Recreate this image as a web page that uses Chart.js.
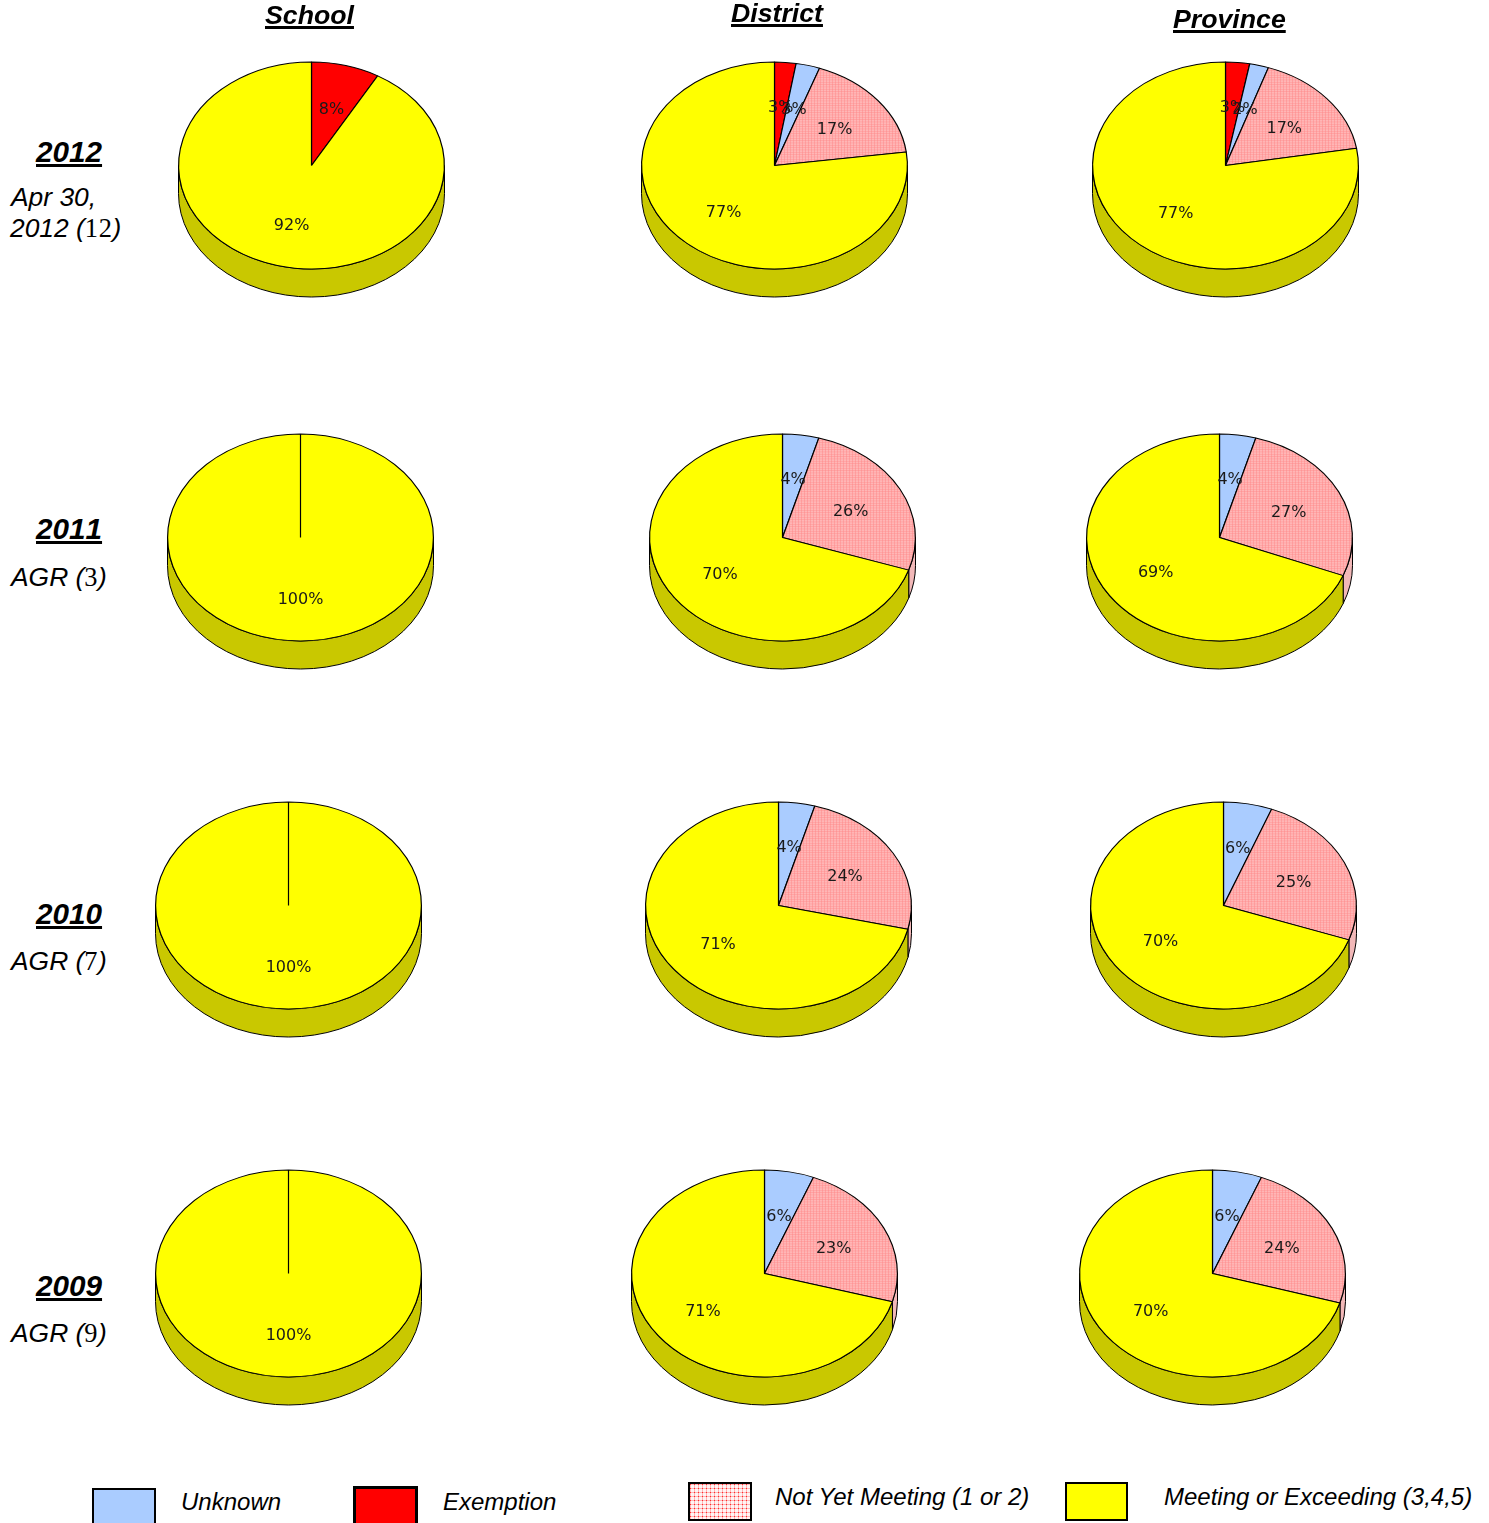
<!DOCTYPE html>
<html>
<head>
<meta charset="utf-8">
<script src="https://cdn.jsdelivr.net/npm/chart.js@4"></script>
<style>
  html, body { margin: 0; padding: 0; background: #fff; }
  #page { position: relative; width: 1489px; height: 1523px; overflow: hidden; font-family: "Liberation Sans", Arial, sans-serif; color: #000; }
  #page canvas { position: absolute; }
  .txt { position: absolute; white-space: nowrap; font-style: italic; line-height: 1; }
  .head { font-weight: bold; text-decoration: underline; text-decoration-thickness: 3px; text-underline-offset: 2px; font-kerning: none; }
  .num { font-family: "Liberation Serif", serif; font-style: normal; letter-spacing: 0.6px; }
  .swatch { position: absolute; box-sizing: border-box; border: 3px solid #000; }
</style>
</head>
<body>
<div id="page"></div>
<script>
// clockwise from 12 o'clock, slices, labels are rounded
const categories = ['Exemption', 'Unknown', 'Not Yet Meeting (1 or 2)', 'Meeting or Exceeding (3,4,5)']
const columns = ['School', 'District', 'Province']
const years = ['2012', '2011', '2010', '2009']

const school2012 = [8.3, 0, 0, 91.7]
const district2012 = [2.6, 2.9, 17.4, 77]
const province2012 = [2.9, 2.3, 17, 77.2]
const school2011 = [0, 0, 0, 100]
const district2011 = [0, 4.4, 25.7, 69.9]
const province2011 = [0, 4.4, 26.6, 69]
const school2010 = [0, 0, 0, 100]
const district2010 = [0, 4.4, 24.3, 71.3]
const province2010 = [0, 5.9, 24.5, 69.6]
const school2009 = [0, 0, 0, 100]
const district2009 = [0, 6, 23.4, 70.6]
const province2009 = [0, 6, 23.6, 70.4]

const page = document.getElementById('page')

const RX = 133, RY = 103.5, DEPTH = 28
const SQUASH = RY / RX

function makeCell(size, base, line, dot) {
  const c = document.createElement('canvas')
  c.width = size
  c.height = size
  const g = c.getContext('2d')
  g.fillStyle = base
  g.fillRect(0, 0, size, size)
  g.fillStyle = line
  g.fillRect(0, 0, size, 1)
  g.fillRect(0, 0, 1, size)
  g.fillStyle = dot
  g.fillRect(0, 0, 1, 1)
  return c
}

const pieCell = makeCell(3, '#ffb6b6', '#ffa0a0', '#ff9494')
const legendCell = makeCell(4, '#fff4f4', '#ffb4b4', '#ff2c2c')
const pinkFill = document.createElement('canvas').getContext('2d').createPattern(pieCell, 'repeat')

const topColors = ['#ff0000', '#aaccff', pinkFill, '#ffff00']
const sideColors = ['#c80000', '#88a3cc', '#f2b8b8', '#c9c800']

const pie3d = {
  id: 'pie3d',
  beforeDatasetsDraw(chart) {
    const { ctx } = chart
    const arcs = chart.getDatasetMeta(0).data
    const cx = arcs[0].x, cy = arcs[0].y
    // front wall of the disc, only the part of each slice facing the viewer
    arcs.forEach((arc, i) => {
      const a0 = Math.max(arc.startAngle, 0)
      const a1 = Math.min(arc.endAngle, Math.PI)
      if (a1 <= a0) return
      ctx.beginPath()
      ctx.ellipse(cx, cy, RX, RY, 0, a0, a1)
      ctx.ellipse(cx, cy + DEPTH, RX, RY, 0, a1, a0, true)
      ctx.closePath()
      ctx.fillStyle = sideColors[i]
      ctx.fill()
      ctx.lineWidth = 1
      ctx.strokeStyle = '#000'
      ctx.stroke()
    })
    ctx.save()
    ctx.translate(cx, cy)
    ctx.scale(1, SQUASH)
    ctx.translate(-cx, -cy)
  },
  afterDatasetsDraw(chart) {
    const { ctx } = chart
    ctx.restore()
    const arcs = chart.getDatasetMeta(0).data
    const values = chart.data.datasets[0].data
    ctx.font = '16px "DejaVu Sans"'
    ctx.fillStyle = '#1a1a1a'
    ctx.textAlign = 'center'
    ctx.textBaseline = 'middle'
    arcs.forEach((arc, i) => {
      if (!values[i]) return
      const mid = (arc.startAngle + arc.endAngle) / 2
      ctx.fillText(Math.round(values[i]) + '%', arc.x + Math.cos(mid) * RX * 0.58, arc.y + 2 + Math.sin(mid) * RY * 0.58)
    })
  }
}

function drawPie(values, cx, cy) {
  const canvas = document.createElement('canvas')
  canvas.width = 287
  canvas.height = 287
  canvas.style.left = (cx - 144) + 'px'
  canvas.style.top = (cy - 143) + 'px'
  page.appendChild(canvas)
  new Chart(canvas.getContext('2d'), {
    type: 'pie',
    data: {
      labels: categories,
      datasets: [{
        data: values,
        backgroundColor: topColors,
        borderColor: '#000',
        borderWidth: 1.2
      }]
    },
    plugins: [pie3d],
    options: {
      responsive: false,
      animation: false,
      layout: { padding: 10 },
      plugins: {
        legend: { display: false },
        tooltip: { enabled: false }
      }
    }
  })
}

drawPie(school2012, 312, 165)
drawPie(district2012, 775, 165)
drawPie(province2012, 1226, 165)
drawPie(school2011, 301, 537)
drawPie(district2011, 783, 537)
drawPie(province2011, 1220, 537)
drawPie(school2010, 289, 905)
drawPie(district2010, 779, 905)
drawPie(province2010, 1224, 905)
drawPie(school2009, 289, 1273)
drawPie(district2009, 765, 1273)
drawPie(province2009, 1213, 1273)

// font ascent is about 0.905em with line-height 1 -> baseline sits near top + 0.86em
function addText(html, x, baseline, size, cls) {
  const el = document.createElement('div')
  el.className = 'txt ' + (cls || '')
  el.style.left = x + 'px'
  el.style.top = (baseline - size * 0.86) + 'px'
  el.style.fontSize = size + 'px'
  el.innerHTML = html
  page.appendChild(el)
}

const num = n => '<span class="num">' + n + '</span>'

addText(columns[0], 265, 25, 26.7, 'head')
addText(columns[1], 731, 23, 26.7, 'head')
addText(columns[2], 1173, 29, 26.7, 'head')

addText(years[0], 36, 163, 29.7, 'head')
addText(years[1], 36, 540, 29.7, 'head')
addText(years[2], 36, 925, 29.7, 'head')
addText(years[3], 36, 1297, 29.7, 'head')

addText('Apr 30,', 11, 207, 26.4)
addText('2012 (' + num(12) + ')', 10, 238, 26.4)
addText('AGR (' + num(3) + ')', 11, 587, 26.4)
addText('AGR (' + num(7) + ')', 11, 971, 26.4)
addText('AGR (' + num(9) + ')', 11, 1343, 26.4)

function addSwatch(x, y, w, h, background, border) {
  const el = document.createElement('div')
  el.className = 'swatch'
  el.style.left = x + 'px'
  el.style.top = y + 'px'
  el.style.width = w + 'px'
  el.style.height = h + 'px'
  el.style.background = background
  el.style.borderWidth = border + 'px'
  page.appendChild(el)
}

addSwatch(92, 1488, 64, 50, '#aaccff', 2)
addSwatch(353, 1486, 65, 50, '#ff0000', 3)
addSwatch(688, 1482, 64, 39, 'url(' + legendCell.toDataURL() + ')', 2)
addSwatch(1065, 1482, 63, 39, '#ffff00', 2)

addText(categories[1], 181, 1511, 24)
addText(categories[0], 443, 1511, 24)
addText(categories[2], 775, 1506, 24)
addText(categories[3], 1164, 1506, 24)
</script>
</body>
</html>
